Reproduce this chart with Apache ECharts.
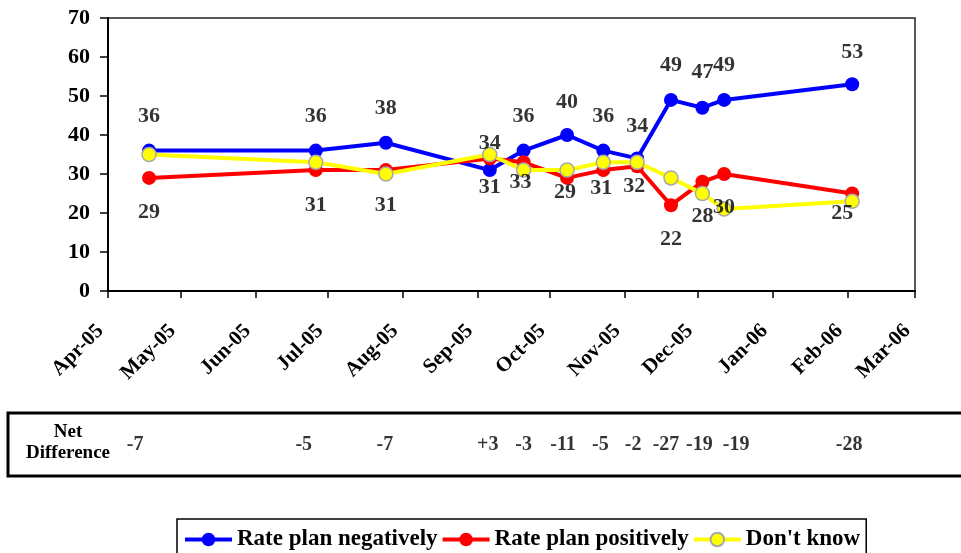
<!DOCTYPE html>
<html><head><meta charset="utf-8">
<script src="https://cdn.jsdelivr.net/npm/echarts@6/dist/echarts.min.js"></script>
<style>html,body{margin:0;padding:0;background:#fff}#c{width:961px;height:553px}</style>
</head><body><div id="c"></div>
<script>
// ---- data ----
const surveyDates = ['2005-04-18','2005-06-26','2005-07-25','2005-09-06','2005-09-20','2005-10-08','2005-10-23','2005-11-06','2005-11-20','2005-12-03','2005-12-12','2006-02-03'];
const ratePlanNegatively = [36,36,38,31,36,40,36,34,49,47,49,53];
const ratePlanPositively = [29,31,31,34,33,29,31,32,22,28,30,25];
const dontKnow = [35,33,30,35,31,31,33,33,29,25,21,23];
const netDifference = ['-7','-5','-7','+3','-3','-11','-5','-2','-27','-19','-19','-28'];
const tickDates = ['2005-04-01','2005-05-01','2005-06-01','2005-07-01','2005-08-01','2005-09-01','2005-10-01','2005-11-01','2005-12-01','2006-01-01','2006-02-01','2006-03-01'];
const tickLabels = ['Apr-05','May-05','Jun-05','Jul-05','Aug-05','Sep-05','Oct-05','Nov-05','Dec-05','Jan-06','Feb-06','Mar-06'];
const seriesNames = ['Rate plan negatively','Rate plan positively',"Don't know"];

// ---- helpers / styling ----
function toTime(s){const p=s.split('-').map(Number);return Date.UTC(p[0],p[1]-1,p[2]);}
const tickTimes = tickDates.map(toTime);
const FONT = '"Liberation Serif","Times New Roman",serif';
const blueLabelShift = [[0,-34],[0,-34],[0,-34],[0,17],[0,-34],[0,-33],[0,-34],[0,-32],[0,-35],[0,-35],[0,-35],[0,-32]];
const redLabelShift = [[0,34],[0,35],[0,35],[0,-15],[-3,20],[-2,14],[-2,18],[-3,20],[0,34],[0,35],[0,33],[-10,20]];
const netShift = [-14,-12,-1,-2,0,-4,-3,-4,-5,-3,12,-3];

function points(values){ return values.map((v,i)=>[toTime(surveyDates[i]), v]); }
function labelPoints(values, shifts){
  return values.map((v,i)=>({value:[toTime(surveyDates[i]), v], label:{offset:shifts[i]}}));
}
const labelStyle = {show:true, position:'inside', color:'#000', fontFamily:FONT, fontWeight:'bold', fontSize:22,
  formatter:function(p){return String(p.value[1]);}};

const chart = echarts.init(document.getElementById('c'), null, {renderer:'canvas'});
chart.setOption({
  animation:false,
  backgroundColor:'#fff',
  grid:[
    {left:108, top:18, right:46, bottom:262, show:true, borderColor:'#222', borderWidth:1.5, backgroundColor:'transparent'},
    {left:108, right:46, top:413, height:63, show:false}
  ],
  xAxis:[
    {type:'value', gridIndex:0, min:tickTimes[0], max:tickTimes[tickTimes.length-1], scale:true,
     axisLine:{show:true, onZero:false, lineStyle:{color:'#000', width:2}},
     axisTick:{show:true, length:7, lineStyle:{color:'#000', width:1.5}, customValues:tickTimes},
     axisLabel:{customValues:tickTimes, rotate:45, margin:29, padding:[0,11,0,0], color:'#000', fontFamily:FONT, fontWeight:'bold', fontSize:21,
       formatter:function(v){const i=tickTimes.indexOf(v);return i>=0?tickLabels[i]:'';}},
     splitLine:{show:false}},
    {type:'value', gridIndex:1, min:tickTimes[0], max:tickTimes[tickTimes.length-1], scale:true, show:false}
  ],
  yAxis:[
    {type:'value', gridIndex:0, min:0, max:70, interval:10,
     axisLine:{show:true, lineStyle:{color:'#000', width:2}},
     axisTick:{show:true, length:8, lineStyle:{color:'#000', width:1.5}},
     axisLabel:{margin:18, color:'#000', fontFamily:FONT, fontWeight:'bold', fontSize:22},
     splitLine:{show:false}},
    {type:'value', gridIndex:1, min:-1, max:1, show:false}
  ],
  legend:{
    data:seriesNames, left:177, top:519, padding:[9,6,8,6], itemGap:3, itemWidth:47, itemHeight:17,
    borderColor:'#000', borderWidth:1.5, backgroundColor:'#fff',
    lineStyle:{width:4},
    textStyle:{color:'#000', fontFamily:FONT, fontWeight:'bold', fontSize:23}
  },
  graphic:[
    {type:'rect', x:8, y:413, shape:{width:962, height:63}, style:{fill:'none', stroke:'#000', lineWidth:3}, z:0},
    {type:'text', x:68, y:443, style:{text:'Net\nDifference', align:'center', verticalAlign:'middle',
      fill:'#000', font:'bold 19px "Liberation Serif","Times New Roman",serif', lineHeight:21}}
  ],
  series:[
    {name:seriesNames[0], type:'line', xAxisIndex:0, yAxisIndex:0, data:points(ratePlanNegatively),
     symbol:'circle', symbolSize:14, lineStyle:{color:'#0000ff', width:4}, itemStyle:{color:'#0000ff'}, z:2},
    {name:seriesNames[1], type:'line', xAxisIndex:0, yAxisIndex:0, data:points(ratePlanPositively),
     symbol:'circle', symbolSize:14, lineStyle:{color:'#ff0000', width:4}, itemStyle:{color:'#ff0000'}, z:3},
    {name:seriesNames[2], type:'line', xAxisIndex:0, yAxisIndex:0, data:points(dontKnow),
     symbol:'circle', symbolSize:14, lineStyle:{color:'#ffff00', width:4}, itemStyle:{color:'#ffff00', borderColor:'#a8a8a8', borderWidth:1.5}, z:4},
    {name:'negLabels', type:'scatter', xAxisIndex:0, yAxisIndex:0, symbolSize:0, z:10, silent:true,
     data:labelPoints(ratePlanNegatively, blueLabelShift), label:labelStyle},
    {name:'posLabels', type:'scatter', xAxisIndex:0, yAxisIndex:0, symbolSize:0, z:10, silent:true,
     data:labelPoints(ratePlanPositively, redLabelShift), label:labelStyle},
    {name:'Net Difference', type:'scatter', xAxisIndex:1, yAxisIndex:1, symbolSize:0, silent:true,
     data:netDifference.map((t,i)=>({value:[toTime(surveyDates[i]), 0], label:{offset:[netShift[i],0]}})),
     label:{show:true, position:'inside', color:'#000', fontFamily:FONT, fontWeight:'bold', fontSize:20,
       formatter:function(p){return netDifference[p.dataIndex];}}}
  ]
});
</script></body></html>
